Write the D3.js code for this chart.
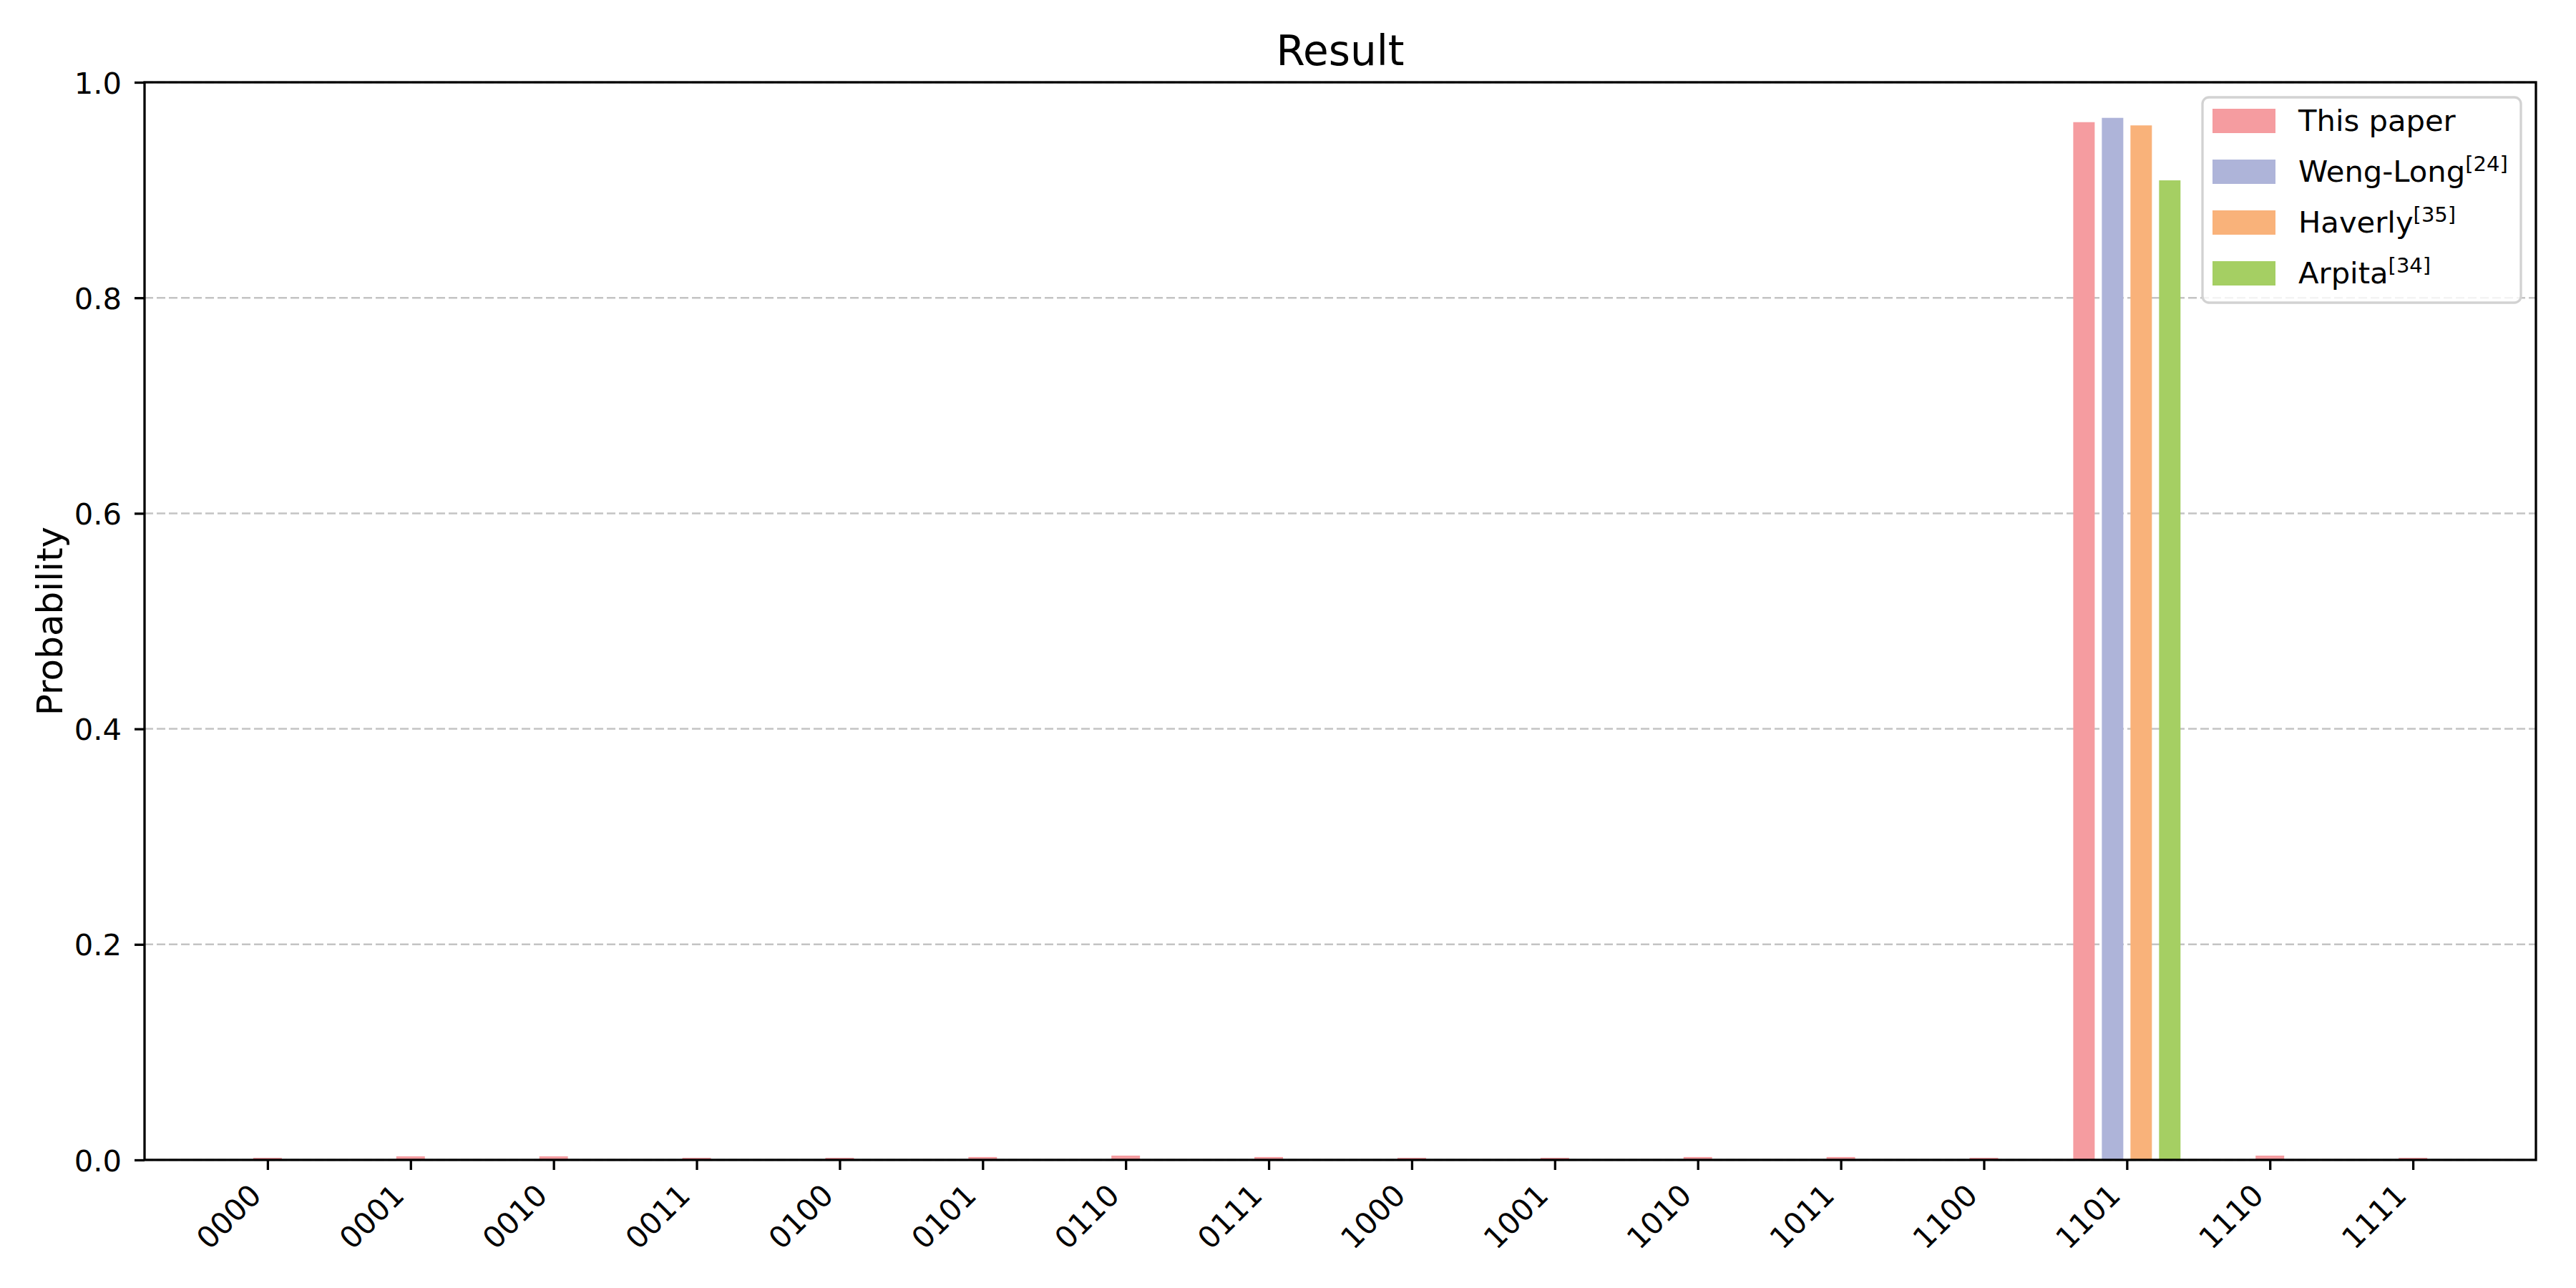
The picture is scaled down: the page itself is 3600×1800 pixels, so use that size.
<!DOCTYPE html>
<html>
<head>
<meta charset="utf-8">
<script src="https://cdn.jsdelivr.net/npm/d3@7"></script>
<style>
  body { margin: 0; background: #fff; }
  text { font-family: "DejaVu Sans", sans-serif; fill: #000; }
</style>
</head>
<body>
<script>
// data
var states = ["0000", "0001", "0010", "0011", "0100", "0101", "0110", "0111",
              "1000", "1001", "1010", "1011", "1100", "1101", "1110", "1111"];

// probability of each state for "This paper"
var thisPaper = [0.002, 0.0033, 0.0033, 0.002, 0.002, 0.0027, 0.004, 0.0027,
                 0.002, 0.002, 0.0027, 0.0027, 0.002, 0.963, 0.004, 0.002];

// the answer state, where all four methods are compared
var answerState = "1101";
var otherNames = ["Weng-Long", "Haverly", "Arpita"];
var otherRefs = ["24", "35", "34"];
var otherValues = [0.967, 0.960, 0.909];

var yTicks = [0, 0.2, 0.4, 0.6, 0.8, 1.0];

var colors = ["#f59ca0", "#aeb4d9", "#f9b27a", "#a5cf63"];

// layout (window.top is taken, so plot box gets its own names)
var W = 3600, H = 1800;
var plotL = 202, plotR = 3544, plotT = 115, plotB = 1621;

var svg = d3.select("body")
            .append("svg")
            .attr("width", W)
            .attr("height", H);

var x = d3.scaleLinear().domain([-0.86, 15.86]).range([plotL, plotR]);
var y = d3.scaleLinear().domain([0, 1]).range([plotB, plotT]);

// grid
svg.append("g")
   .selectAll("line")
   .data(yTicks)
   .enter()
   .append("line")
   .attr("x1", plotL)
   .attr("x2", plotR)
   .attr("y1", function(d) { return y(d); })
   .attr("y2", function(d) { return y(d); })
   .style("stroke", "#c4c4c4")
   .style("stroke-width", 2.5)
   .style("stroke-dasharray", "12,5");

// small bars for every state except the answer
var ansIdx = states.indexOf(answerState);
var single = [];
thisPaper.forEach(function(v, i) {
    if (i !== ansIdx) single.push({ i: i, v: v });
});

svg.append("g")
   .selectAll("rect")
   .data(single)
   .enter()
   .append("rect")
   .attr("x", function(d) { return x(d.i - 0.1); })
   .attr("width", x(0.2) - x(0))
   .attr("y", function(d) { return y(d.v); })
   .attr("height", function(d) { return y(0) - y(d.v); })
   .style("fill", colors[0]);

// grouped bars at the answer state
var group = [thisPaper[ansIdx]].concat(otherValues);
var offsets = [-0.3, -0.1, 0.1, 0.3];

svg.append("g")
   .selectAll("rect")
   .data(group)
   .enter()
   .append("rect")
   .attr("x", function(d, k) { return x(ansIdx + offsets[k] - 0.075); })
   .attr("width", x(0.15) - x(0))
   .attr("y", function(d) { return y(d); })
   .attr("height", function(d) { return y(0) - y(d); })
   .style("fill", function(d, k) { return colors[k]; });

// x axis
var xAxis = svg.append("g")
   .attr("transform", "translate(0," + plotB + ")")
   .call(d3.axisBottom(x)
           .tickValues(d3.range(states.length))
           .tickFormat(function(i) { return states[i]; })
           .tickSize(14)
           .tickSizeOuter(0));
xAxis.select(".domain").remove();
xAxis.selectAll(".tick line").style("stroke", "#000").style("stroke-width", 3.3);
xAxis.selectAll(".tick text")
     .attr("x", 0).attr("y", 0).attr("dy", 0)
     .attr("transform", "translate(-7,52) rotate(-45)")
     .style("text-anchor", "end")
     .style("font-size", "41.7px")
     .style("font-family", "DejaVu Sans");

// y axis
var yAxis = svg.append("g")
   .attr("transform", "translate(" + plotL + ",0)")
   .call(d3.axisLeft(y)
           .tickValues(yTicks)
           .tickFormat(d3.format(".1f"))
           .tickSize(14)
           .tickPadding(18)
           .tickSizeOuter(0));
yAxis.select(".domain").remove();
yAxis.selectAll(".tick line").style("stroke", "#000").style("stroke-width", 3.3);
yAxis.selectAll(".tick text")
     .attr("dy", "0.36em")
     .style("font-size", "41.7px")
     .style("font-family", "DejaVu Sans");

// frame
svg.append("rect")
   .attr("x", plotL).attr("y", plotT)
   .attr("width", plotR - plotL).attr("height", plotB - plotT)
   .style("fill", "none")
   .style("stroke", "#000")
   .style("stroke-width", 3.3);

// title and label
svg.append("text")
   .attr("x", (plotL + plotR) / 2)
   .attr("y", 91)
   .style("text-anchor", "middle")
   .style("font-size", "58px")
   .text("Result");

svg.append("text")
   .attr("transform", "translate(69," + (plotT + plotB) / 2 + ") rotate(-90)")
   .attr("dy", "0.35em")
   .style("text-anchor", "middle")
   .style("font-size", "50px")
   .text("Probability");

// legend
var legendNames = ["This paper"].concat(otherNames);
var legendRefs = [""].concat(otherRefs);

var legend = svg.append("g");
legend.append("rect")
      .attr("x", 3078).attr("y", 136)
      .attr("width", 445).attr("height", 287)
      .attr("rx", 9)
      .style("fill", "#fff")
      .style("fill-opacity", 0.8)
      .style("stroke", "#d2d2d2")
      .style("stroke-width", 3.3);

var rows = legend.selectAll("g.row")
      .data(legendNames)
      .enter()
      .append("g")
      .attr("class", "row")
      .attr("transform", function(d, k) { return "translate(0," + (169 + k * 71) + ")"; });

rows.append("rect")
    .attr("x", 3092).attr("y", -17)
    .attr("width", 88).attr("height", 34)
    .style("fill", function(d, k) { return colors[k]; });

var labels = rows.append("text")
    .attr("x", 3212).attr("y", 14)
    .style("font-size", "41.7px");
labels.append("tspan").text(function(d) { return d; });
labels.append("tspan")
      .attr("dy", -15)
      .style("font-size", "29px")
      .text(function(d, k) { return legendRefs[k] ? "[" + legendRefs[k] + "]" : ""; });
</script>
</body>
</html>
